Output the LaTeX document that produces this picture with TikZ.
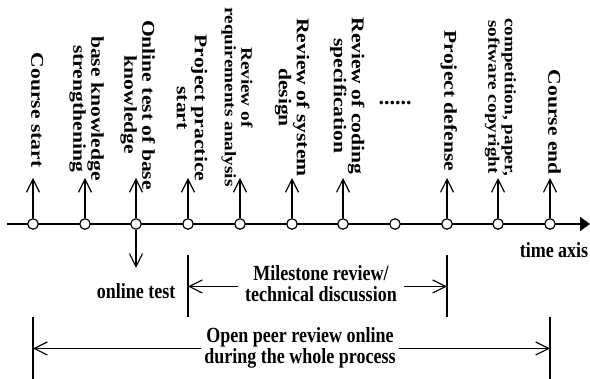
\documentclass[tikz,border=0pt]{standalone}
\usepackage{fontspec}
\setmainfont{Liberation Serif}
\usetikzlibrary{arrows.meta}

% text blocks: slightly tall letters; vertical ones read top to bottom
\newcommand{\vlab}[1]{\scalebox{1}[1.2]{\rotatebox{-90}{\begin{tabular}{@{}c@{}}#1\end{tabular}}}}
\newcommand{\hlab}[1]{\scalebox{1}[1.2]{\begin{tabular}{@{}c@{}}#1\end{tabular}}}

\tikzset{
  axisline/.style={line width=2pt, -{Triangle[length=10pt,width=14pt]}},
  tickdot/.style={circle, draw, fill=white, line width=1.2pt, minimum size=10.5pt, inner sep=0pt},
  barb/.style={line width=1.2pt, -{Straight Barb[length=13pt,width=13pt,line width=1.2pt]}},
  span/.style={line width=1.4pt},
  lbl/.style={font=\bfseries\fontsize{18}{18}\selectfont, inner sep=0pt},
  smalllbl/.style={font=\bfseries\fontsize{16}{16.5}\selectfont, inner sep=0pt},
}

\begin{document}
\begin{tikzpicture}[x=1pt, y=-1pt]
\useasboundingbox (0,0) rectangle (590,379);

% time axis
\coordinate (axs) at (7,224);
\coordinate (axe) at (590,224);
\draw[axisline] (axs) -- (axe);

% events on the axis
\foreach \i/\x in {1/33,2/85,3/136,4/188,5/240,6/292,7/343,8/395,9/447,10/498,11/550}{
  \node[tickdot] (t\i) at (\x,224) {};
}

% arrows up to the event labels
\foreach \i/\x in {1/33,2/85,3/136,4/188,5/240,6/292,7/343,9/447,10/498,11/550}{
  \coordinate (u\i) at (\x,178);
  \draw[barb] (t\i.north) -- (u\i);
}

% event labels
\node[lbl] (l1) at (35,110) {\vlab{Course start}};
\node[lbl] (l2) at (86,108.5) {\vlab{base knowledge\\strengthening}};
\node[lbl] (l3) at (137,105) {\vlab{Online test of base\\knowledge}};
\node[lbl] (l4) at (189.5,108) {\vlab{Project practice\\start}};
\node[smalllbl] (l5) at (236.5,97) {\vlab{Review of\hspace*{16pt}\\requirements analysis}};
\node[lbl] (l6) at (291.5,97.5) {\vlab{Review of system\\design}};
\node[lbl] (l7) at (346.5,96) {\vlab{Review of coding\\specification}};
\node[font=\bfseries\fontsize{22}{22}\selectfont, inner sep=0pt] (l8) at (395,103) {......};
\node[lbl] (l9) at (448,101) {\vlab{Project defense}};
\node[smalllbl] (l10) at (500,97) {\vlab{competition, paper,\\software copyright}};
\node[lbl] (l11) at (552,122.5) {\vlab{Course end}};

% online test below the axis
\coordinate (d3) at (136,268);
\draw[barb] (t3.south) -- (d3);
\node[lbl] (ot) at (136,294) {\hlab{online test}};

\node[lbl] (ta) at (554,253) {\hlab{time axis}};

% milestone review span
\coordinate (m1a) at (188,255);
\coordinate (m1b) at (188,317);
\coordinate (m2a) at (447,255);
\coordinate (m2b) at (447,317);
\draw[span] (m1a) -- (m1b);
\draw[span] (m2a) -- (m2b);
\node[lbl, inner xsep=7pt] (ms) at (321,286.5) {\hlab{Milestone review/\\technical discussion}};
\draw[barb] (ms.west) -- (ms.west -| m1a);
\draw[barb] (ms.east) -- (ms.east -| m2a);

% open peer review span
\coordinate (p1a) at (33,317);
\coordinate (p1b) at (33,379);
\coordinate (p2a) at (550,317);
\coordinate (p2b) at (550,379);
\draw[span] (p1a) -- (p1b);
\draw[span] (p2a) -- (p2b);
\node[lbl, inner xsep=3pt] (op) at (300,348.5) {\hlab{Open peer review online\\during the whole process}};
\draw[barb] (op.west) -- (op.west -| p1a);
\draw[barb] (op.east) -- (op.east -| p2a);
\end{tikzpicture}
\end{document}
